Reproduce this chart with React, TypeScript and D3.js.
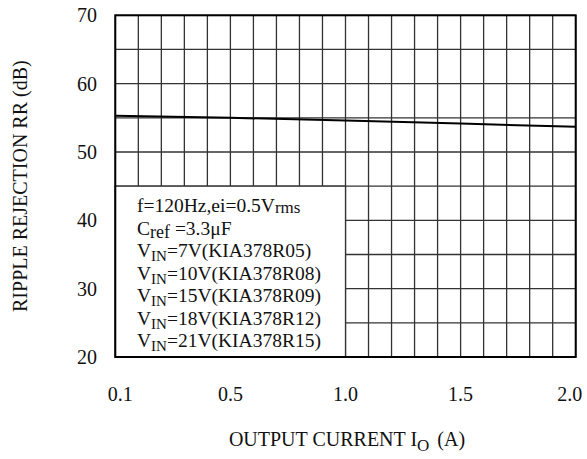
import React from 'react';
import { scaleLinear, line } from 'd3';

// output current (A) vs ripple rejection (dB)
const current = [0, 0.5, 1.0, 1.5, 2.0];
const rejection = [55.3, 55.0, 54.6, 54.15, 53.7];

const xTickValues = [0, 0.5, 1.0, 1.5, 2.0];
const xTickLabels = ['0.1', '0.5', '1.0', '1.5', '2.0'];
const yTickValues = [20, 30, 40, 50, 60, 70];

const W = 587;
const H = 459;
const font = '"Liberation Serif", "Times New Roman", serif';

const App: React.FC = () => {
  const x = scaleLinear().domain([0, 2]).range([115.3, 575.7]);
  const y = scaleLinear().domain([20, 70]).range([357, 15.3]);

  const path = line<number>()
    .x((_, i) => x(current[i]))
    .y(d => y(d))(rejection);

  const gridX = x.ticks(20);
  const gridY = y.ticks(10);

  const lx = 137;
  const ly = 212;
  const step = 22.5;

  return (
    <svg width={W} height={H} style={{ position: 'absolute', left: 0, top: 0, background: '#fff' }}
      fontFamily={font}>
      {gridX.map(v => (
        <line key={'gx' + v} x1={x(v)} x2={x(v)} y1={y(70)} y2={y(20)} stroke="#333" strokeWidth={1.3} />
      ))}
      {gridY.map(v => (
        <line key={'gy' + v} x1={x(0)} x2={x(2)} y1={y(v)} y2={y(v)} stroke="#333" strokeWidth={1.3} />
      ))}

      <path d={path!} fill="none" stroke="#000" strokeWidth={2} />

      {/* condition box */}
      <rect x={x(0)} y={y(45)} width={x(1) - x(0)} height={y(20) - y(45)} fill="#fff" stroke="#333" strokeWidth={1.3} />

      <rect x={x(0)} y={y(70)} width={x(2) - x(0)} height={y(20) - y(70)} fill="none" stroke="#000" strokeWidth={2} />

      <g fontSize={19.5} fill="#111">
        <text x={lx} y={ly}>f=120Hz,ei=0.5V<tspan fontSize={17} dy={1}>rms</tspan></text>
        <text x={lx} y={ly + step}>C<tspan fontSize={18} dy={3}>ref</tspan><tspan dy={-3}> =3.3μF</tspan></text>
        {['7V(KIA378R05)', '10V(KIA378R08)', '15V(KIA378R09)', '18V(KIA378R12)', '21V(KIA378R15)'].map((s, i) => (
          <text key={s} x={lx} y={ly + step * (i + 2)}>V<tspan fontSize={15} dy={4}>IN</tspan><tspan dy={-4}>={s}</tspan></text>
        ))}
      </g>

      <g fontSize={20} fill="#111">
        {yTickValues.map(v => (
          <text key={'yt' + v} x={97} y={y(v)} textAnchor="end" dominantBaseline="central">{v}</text>
        ))}
        {xTickValues.map((v, i) => (
          <text key={'xt' + v} x={x(v) + (i === 0 ? 5 : i === xTickValues.length - 1 ? -6 : 0)} y={401}
            textAnchor="middle">{xTickLabels[i]}</text>
        ))}
        <text x={347} y={446} textAnchor="middle">OUTPUT CURRENT I<tspan fontSize={17} dy={5}>O</tspan><tspan dy={-5} dx={8}>(A)</tspan></text>
        <text transform={`translate(27,${(y(20) + y(70)) / 2}) rotate(-90)`} textAnchor="middle">RIPPLE REJECTION RR (dB)</text>
      </g>
    </svg>
  );
};

export default App;
